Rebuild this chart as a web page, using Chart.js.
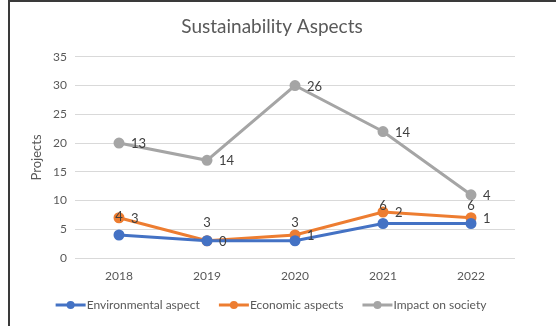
<!DOCTYPE html>
<html>
<head>
<meta charset="utf-8">
<script src="https://cdn.jsdelivr.net/npm/chart.js@4"></script>
<style>
  html, body { margin: 0; padding: 0; background: #fff; }
  #wrap { width: 556px; height: 326px; position: relative; }
</style>
</head>
<body>
<div id="wrap"><canvas id="chart" width="556" height="326"></canvas></div>
<script>
const years = ['2018', '2019', '2020', '2021', '2022'];
const environmental = [4, 3, 3, 6, 6];
const economic = [3, 0, 1, 2, 1];
const society = [13, 14, 26, 14, 4];
const yTicks = [0, 5, 10, 15, 20, 25, 30, 35];

const FONT = 'Lato, "Open Sans", sans-serif';
const TEXT = '#595959';

// data labels: first series above the point, the others on the right
const labelPlugin = {
  id: 'valueLabels',
  afterDatasetsDraw(chart) {
    const ctx = chart.ctx;
    ctx.save();
    ctx.font = '13px ' + FONT;
    ctx.fillStyle = '#404040';
    ctx.textBaseline = 'middle';
    chart.data.datasets.forEach((ds, i) => {
      chart.getDatasetMeta(i).data.forEach((pt, j) => {
        const v = ds.data[j];
        if (i === 0) {
          ctx.textAlign = 'center';
          ctx.fillText(v, pt.x, pt.y - 18);
        } else {
          ctx.textAlign = 'left';
          ctx.fillText(v, pt.x + 12, pt.y + 1);
        }
      });
    });
    ctx.restore();
  }
};

// legend with a line + dot marker, plus the frame lines
const legendPlugin = {
  id: 'lineLegend',
  afterDraw(chart) {
    const ctx = chart.ctx;
    ctx.save();
    ctx.font = '12px ' + FONT;
    const items = chart.data.datasets.map(ds => ({
      text: ds.label, color: ds.borderColor, w: ctx.measureText(ds.label).width
    }));
    const gap = 19, mark = 30;
    const total = items.reduce((s, it) => s + mark + 1 + it.w, 0) + gap * (items.length - 1);
    let x = (chart.chartArea.left + chart.chartArea.right) / 2 - total / 2 - 24;
    const y = 305;
    items.forEach(it => {
      ctx.strokeStyle = it.color;
      ctx.lineWidth = 3;
      ctx.beginPath();
      ctx.moveTo(x, y);
      ctx.lineTo(x + mark, y);
      ctx.stroke();
      ctx.fillStyle = it.color;
      ctx.beginPath();
      ctx.arc(x + mark / 2, y, 4, 0, Math.PI * 2);
      ctx.fill();
      ctx.fillStyle = TEXT;
      ctx.textAlign = 'left';
      ctx.textBaseline = 'middle';
      ctx.fillText(it.text, x + mark + 1, y);
      x += mark + 1 + it.w + gap;
    });
    // frame
    ctx.strokeStyle = '#3a3a3a';
    ctx.lineWidth = 2;
    ctx.beginPath();
    ctx.moveTo(9, 326);
    ctx.lineTo(9, 1);
    ctx.lineTo(556, 1);
    ctx.stroke();
    ctx.restore();
  }
};

const mkSet = (label, data, color) => ({
  label,
  data,
  borderColor: color,
  backgroundColor: color,
  borderWidth: 3,
  pointRadius: 4,
  pointHoverRadius: 4,
  fill: false,
  tension: 0
});

new Chart(document.getElementById('chart'), {
  type: 'line',
  data: {
    labels: years,
    datasets: [
      mkSet('Environmental aspect', environmental, '#4472C4'),
      mkSet('Economic aspects', economic, '#ED7D31'),
      mkSet('Impact on society', society, '#A5A5A5')
    ]
  },
  options: {
    responsive: false,
    animation: false,
    layout: { padding: { left: 29, right: 41, top: 8, bottom: 38 } },
    plugins: {
      legend: { display: false },
      tooltip: { enabled: false },
      title: {
        display: true,
        text: 'Sustainability Aspects',
        color: TEXT,
        font: { family: FONT, size: 19, weight: 'normal' },
        padding: { top: 7, bottom: 19 }
      }
    },
    scales: {
      x: {
        offset: true,
        grid: { display: false },
        border: { display: false },
        ticks: { color: TEXT, font: { family: FONT, size: 12 }, padding: 3 },
        afterFit(scale) { scale.height = 30; }
      },
      y: {
        stacked: true,
        min: 0,
        max: 35,
        afterBuildTicks(scale) { scale.ticks = yTicks.map(v => ({ value: v })); },
        grid: { color: '#d9d9d9', lineWidth: 1, drawTicks: false },
        border: { display: false },
        ticks: { color: TEXT, font: { family: FONT, size: 12 }, padding: 8 },
        title: {
          display: true,
          text: 'Projects',
          color: TEXT,
          font: { family: FONT, size: 13 },
          padding: 0
        },
        afterFit(scale) { scale.width = 46; }
      }
    }
  },
  plugins: [labelPlugin, legendPlugin]
});
</script>
</body>
</html>
